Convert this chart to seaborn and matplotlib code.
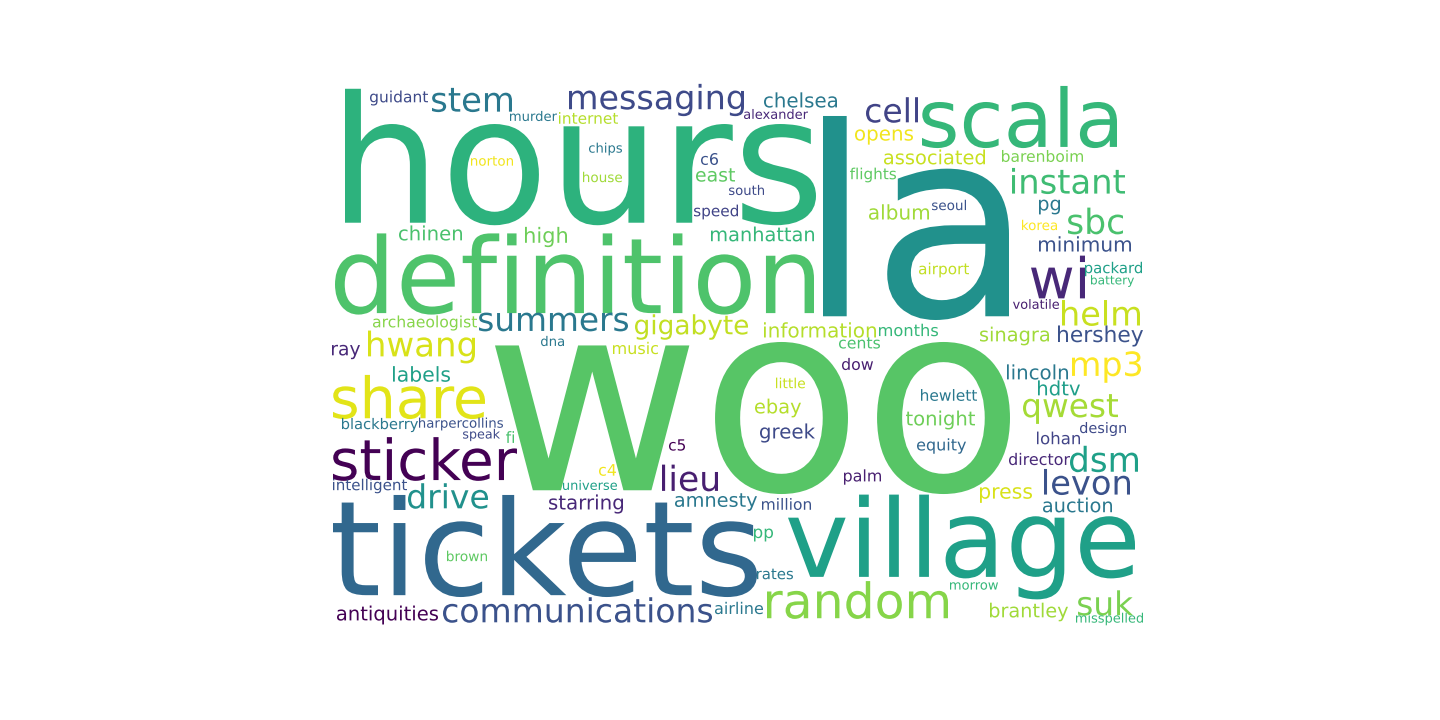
import matplotlib
matplotlib.use("Agg")
import matplotlib.pyplot as plt
import seaborn as sns
from matplotlib.textpath import TextPath
from matplotlib.font_manager import FontProperties
from matplotlib.patches import PathPatch
from matplotlib.transforms import Affine2D

sns.set_style("white")
plt.rcParams['font.family'] = ['DejaVu Sans']

# word list and colours (viridis-like)
words = ["woo", "la", "hours", "definition", "tickets", "village", "scala", "share", "sticker",
         "random", "communications", "summers", "hwang", "messaging", "stem", "cell", "instant",
         "sbc", "wi", "helm", "mp3", "qwest", "dsm", "levon", "suk", "lieu", "drive", "gigabyte",
         "chelsea", "associated", "opens", "east", "album", "manhattan", "high", "chinen",
         "guidant", "murder", "alexander", "internet", "chips", "c6", "norton", "house", "south",
         "speed", "flights", "barenboim", "seoul", "pg", "korea", "minimum", "airport", "packard",
         "battery", "volatile", "archaeologist", "ray", "information", "months", "cents", "dna",
         "music", "sinagra", "hershey", "labels", "dow", "little", "lincoln", "hdtv", "hewlett",
         "blackberry", "harpercollins", "speak", "fi", "ebay", "tonight", "greek", "equity",
         "lohan", "design", "c5", "director", "palm", "c4", "intelligent", "universe", "starring",
         "amnesty", "million", "press", "auction", "pp", "brown", "rates", "morrow", "antiquities",
         "airline", "brantley", "misspelled"]
colors = ["#57c566", "#21918c", "#2db27d", "#4ec36b", "#31688e", "#1fa088", "#35b779", "#e2e418", "#440154",
          "#86d549", "#3b528b", "#2a788e", "#d8e219", "#3e4a89", "#2a788e", "#414487", "#3fbc73",
          "#4ac16d", "#482878", "#c8e020", "#fde725", "#a5db36", "#1fa088", "#3b528b", "#7ad151", "#481f70", "#21918c", "#c2df23",
          "#2a788e", "#c8e020", "#f1e51d", "#5ec962", "#a0da39", "#35b779", "#6ece58", "#4ac16d",
          "#3e4a89", "#2a788e", "#482878", "#b5de2b", "#2a788e", "#3b528b", "#f1e51d", "#a0da39", "#3e4a89",
          "#414487", "#5ec962", "#7ad151", "#3b528b", "#2a788e", "#fde725", "#3b528b", "#c2df23", "#1fa088",
          "#35b779", "#481f70", "#86d549", "#482878", "#b5de2b", "#35b779", "#4ac16d", "#2a788e",
          "#c8e020", "#a0da39", "#3b528b", "#1fa088", "#481f70", "#c8e020", "#2a788e", "#1f9e89", "#2a788e",
          "#2a788e", "#3b528b", "#3e4a89", "#4ac16d", "#b5de2b", "#6ece58", "#3e4a89", "#31688e",
          "#414487", "#3e4a89", "#440154", "#482878", "#481f70", "#f1e51d", "#3b528b", "#1fa088", "#482878",
          "#2a788e", "#3b528b", "#d8e219", "#2a788e", "#35b779", "#5ec962", "#2a788e", "#35b779", "#440154",
          "#2a788e", "#a0da39", "#35b779"]

# layout: left/right pixel extents and vertical centre of each word's box
left = [495, 823, 345, 335, 333, 788, 922, 333, 333,
        767, 443, 479, 368, 569, 432, 866, 1012,
        1068, 1031, 1062, 1072, 1023, 1070, 1044, 1078, 662, 408, 635,
        764, 884, 855, 696, 869, 711, 525, 399,
        370, 510, 744, 559, 589, 701, 471, 583, 729,
        694, 850, 1002, 932, 1039, 1022, 1039, 919, 1085,
        1091, 1013, 373, 332, 764, 879, 839, 541,
        613, 980, 1058, 393, 842, 776, 1007, 1038, 921,
        342, 419, 463, 506, 755, 906, 760, 917,
        1037, 1080, 669, 1009, 844, 599, 333, 563, 549,
        675, 762, 980, 1043, 754, 447, 757, 950, 337,
        715, 990, 1076]
right = [1010, 1009, 816, 814, 757, 1135, 1117, 485, 517,
         948, 712, 628, 475, 744, 512, 918, 1125,
         1123, 1085, 1140, 1141, 1118, 1138, 1130, 1133, 718, 488, 748,
         837, 985, 913, 735, 929, 814, 567, 462,
         428, 557, 808, 618, 622, 718, 513, 622, 764,
         738, 896, 1083, 966, 1060, 1057, 1131, 969, 1142,
         1134, 1059, 477, 360, 876, 938, 880, 564,
         658, 1049, 1143, 450, 873, 805, 1068, 1080, 977,
         418, 503, 500, 514, 801, 975, 815, 966,
         1080, 1126, 685, 1070, 881, 616, 407, 617, 623,
         757, 811, 1032, 1112, 773, 487, 793, 998, 438,
         763, 1068, 1143]
ycen = [418, 218, 157, 274, 546, 547, 117, 397, 459,
        600, 610, 322, 347, 100, 100, 110, 181,
        221, 277, 313, 367, 409, 459, 482, 603, 478, 496, 327,
        100, 157, 137, 175, 212, 234, 237, 233,
        98, 116, 114, 118, 149, 159, 161, 177, 190,
        212, 175, 156, 205, 207, 225, 244, 270, 269,
        281, 304, 323, 352, 330, 330, 343, 341,
        348, 336, 336, 374, 364, 383, 372, 388, 395,
        425, 424, 435, 437, 408, 420, 433, 446,
        438, 429, 445, 459, 477, 470, 486, 485, 504,
        502, 504, 495, 505, 535, 556, 574, 586, 615,
        608, 612, 619]

fig = plt.figure(figsize=(14.4, 7.2), dpi=100)
ax = fig.add_axes([0, 0, 1, 1])
ax.set_xlim(0, 1440)
ax.set_ylim(720, 0)
ax.axis("off")

fp = FontProperties(family="DejaVu Sans")
for w, c, x0, x1, yc in zip(words, colors, left, right, ycen):
    tp = TextPath((0, 0), w, size=100, prop=fp)
    ext = tp.get_extents()
    s = (x1 - x0) / ext.width
    tr = (Affine2D()
          .translate(-(ext.x0 + ext.width / 2), -(ext.y0 + ext.height / 2))
          .scale(s, -s)
          .translate((x0 + x1) / 2, yc))
    ax.add_patch(PathPatch(tr.transform_path(tp), facecolor=c, edgecolor="none", lw=0))

fig.savefig("out.png", dpi=100, facecolor="white")
